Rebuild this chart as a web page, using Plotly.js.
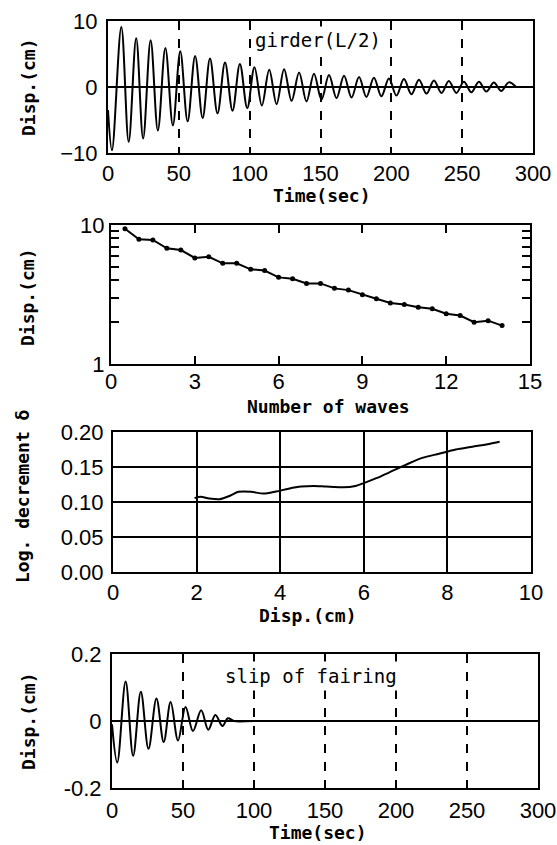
<!DOCTYPE html>
<html>
<head>
<meta charset="utf-8">
<script src="https://cdn.plot.ly/plotly-3.0.1.min.js"></script>
<style>html,body{margin:0;padding:0;background:#fff;}#chart{width:557px;height:845px;}</style>
</head>
<body>
<div id="chart"></div>
<script>
// ---- Panel 1: girder (L/2) free-vibration record (peaks / troughs)
const girderTime = [0, 2.8, 9.4, 14.6, 19.9, 24.8, 30.1, 35.2, 40.5, 45.8, 51.0, 56.2, 61.5, 66.8, 72.0, 77.3, 82.6, 87.9, 93.1, 98.3, 103.4, 108.6, 113.8, 119.0, 124.3, 129.6, 134.9, 140.1, 145.4, 150.7, 156.0, 161.3, 166.6, 171.9, 177.2, 182.4, 187.7, 193.0, 198.3, 203.6, 208.9, 214.2, 219.5, 224.8, 230.1, 235.4, 240.6, 245.9, 251.2, 256.5, 261.8, 267.1, 272.4, 277.6, 282.9, 288];
const girderDisp = [-3.5, -9.6, 9.1, -8.3, 7.4, -7.8, 7.1, -6.6, 5.9, -5.8, 5.4, -5.2, 4.7, -4.7, 4.3, -4.0, 3.7, -3.6, 3.5, -3.2, 3.0, -2.8, 2.6, -2.6, 2.7, -2.1, 2.2, -2.2, 2.0, -1.9, 1.8, -1.7, 1.7, -1.6, 1.5, -1.5, 1.4, -1.4, 1.3, -1.3, 1.2, -1.1, 1.1, -1.0, 1.0, -0.9, 0.9, -0.9, 0.8, -0.8, 0.8, -0.7, 0.7, -0.6, 0.7, 0];
const timeTicks = [0, 50, 100, 150, 200, 250, 300];

// ---- Panel 2: amplitude vs number of waves (log scale)
const waveNumber = [0.5, 1, 1.5, 2, 2.5, 3, 3.5, 4, 4.5, 5, 5.5, 6, 6.5, 7, 7.5, 8, 8.5, 9, 9.5, 10, 10.5, 11, 11.5, 12, 12.5, 13, 13.5, 14];
const waveAmp = [9.4, 7.9, 7.8, 6.8, 6.6, 5.8, 5.9, 5.3, 5.3, 4.8, 4.7, 4.2, 4.1, 3.8, 3.8, 3.5, 3.4, 3.15, 2.95, 2.75, 2.68, 2.56, 2.5, 2.3, 2.23, 2.0, 2.05, 1.89];
const waveTicks = [0, 3, 6, 9, 12, 15];
const logTickVals = [1, 2, 3, 4, 5, 6, 7, 8, 9, 10];
const logTickText = ['1', '', '', '', '', '', '', '', '', '10'];

// ---- Panel 3: logarithmic decrement vs displacement
const decDisp = [1.95, 2.1, 2.3, 2.55, 2.8, 3.0, 3.3, 3.6, 3.9, 4.2, 4.5, 4.8, 5.1, 5.5, 5.8, 6.0, 6.3, 6.6, 7.0, 7.4, 7.8, 8.2, 8.6, 9.0, 9.25];
const logDecrement = [0.1055, 0.1074, 0.105, 0.104, 0.109, 0.1146, 0.1146, 0.112, 0.115, 0.119, 0.122, 0.123, 0.122, 0.121, 0.123, 0.127, 0.134, 0.142, 0.153, 0.163, 0.169, 0.175, 0.179, 0.183, 0.186];
const dispTicks = [0, 2, 4, 6, 8, 10];
const decTicks = [0, 0.05, 0.10, 0.15, 0.20];

// ---- Panel 4: slip of fairing
const slipTime = [0, 3.7, 9.6, 14.9, 20.3, 25.7, 31.3, 36.4, 41.3, 46.5, 51.8, 57.0, 62.8, 67.8, 72.8, 77.8, 81.6, 86, 100, 150, 200, 250, 300];
const slipDisp = [-0.01, -0.124, 0.118, -0.104, 0.087, -0.083, 0.067, -0.063, 0.057, -0.058, 0.042, -0.030, 0.032, -0.026, 0.018, -0.015, 0.008, 0, 0, 0, 0, 0, 0];

const W = 557, H = 845;
const fx = p => p / W;
const fy = p => 1 - p / H;

const tickFont = {family: 'Liberation Sans, Arial, sans-serif', size: 22, color: '#000'};
const titleFont = {family: 'DejaVu Sans Mono, monospace', size: 18, color: '#000', weight: 'bold'};
const noteFont = {family: 'DejaVu Sans Mono, monospace', size: 19, color: '#000'};

const traces = [
  {x: girderTime, y: girderDisp, xaxis: 'x', yaxis: 'y', mode: 'lines', line: {color: '#000', width: 2, shape: 'spline', smoothing: 1}, hoverinfo: 'skip'},
  {x: waveNumber, y: waveAmp, xaxis: 'x2', yaxis: 'y2', mode: 'lines+markers', line: {color: '#000', width: 2}, marker: {color: '#000', size: 5}, hoverinfo: 'skip'},
  {x: decDisp, y: logDecrement, xaxis: 'x3', yaxis: 'y3', mode: 'lines', line: {color: '#000', width: 2, shape: 'spline', smoothing: 0.8}, hoverinfo: 'skip'},
  {x: slipTime, y: slipDisp, xaxis: 'x4', yaxis: 'y4', mode: 'lines', line: {color: '#000', width: 2, shape: 'spline', smoothing: 1}, hoverinfo: 'skip'}
];

const box = {showline: true, mirror: true, linecolor: '#000', linewidth: 2, tickfont: tickFont, fixedrange: true};

const layout = {
  width: W, height: H,
  margin: {l: 0, r: 0, t: 0, b: 0},
  paper_bgcolor: '#fff', plot_bgcolor: '#fff',
  showlegend: false,
  // Panel 1
  xaxis: Object.assign({}, box, {domain: [fx(108), fx(533)], anchor: 'y', range: [0, 300], tickmode: 'array', tickvals: timeTicks,
    showgrid: true, gridcolor: '#000', gridwidth: 2, griddash: 'dash', zeroline: false, ticks: '', ticklabelstandoff: 0}),
  yaxis: Object.assign({}, box, {domain: [fy(153), fy(21)], anchor: 'x', range: [-10, 10], tickmode: 'array', tickvals: [-10, 0, 10],
    showgrid: false, zeroline: true, zerolinecolor: '#000', zerolinewidth: 2, ticks: '', ticklabelstandoff: 4}),
  // Panel 2
  xaxis2: Object.assign({}, box, {domain: [fx(111), fx(530)], anchor: 'y2', range: [0, 15], tickmode: 'array', tickvals: waveTicks,
    showgrid: false, zeroline: false, ticks: 'inside', ticklen: 8, tickwidth: 2, tickcolor: '#000', mirror: 'ticks', ticklabelstandoff: -3}),
  yaxis2: Object.assign({}, box, {domain: [fy(364), fy(225)], anchor: 'x2', type: 'log', range: [0, 1], tickmode: 'array', tickvals: logTickVals, ticktext: logTickText,
    showgrid: false, zeroline: false, ticks: 'inside', ticklen: 8, tickwidth: 2, tickcolor: '#000', mirror: 'ticks', ticklabelstandoff: 0}),
  // Panel 3
  xaxis3: Object.assign({}, box, {domain: [fx(113), fx(531)], anchor: 'y3', range: [0, 10], tickmode: 'array', tickvals: dispTicks,
    showgrid: true, gridcolor: '#000', gridwidth: 2, zeroline: false, ticks: '', ticklabelstandoff: 0}),
  yaxis3: Object.assign({}, box, {domain: [fy(572), fy(432)], anchor: 'x3', range: [0, 0.2], tickmode: 'array', tickvals: decTicks, tickformat: '.2f',
    showgrid: true, gridcolor: '#000', gridwidth: 2, zeroline: false, ticks: '', ticklabelstandoff: 3}),
  // Panel 4
  xaxis4: Object.assign({}, box, {domain: [fx(112), fx(538)], anchor: 'y4', range: [0, 300], tickmode: 'array', tickvals: timeTicks,
    showgrid: true, gridcolor: '#000', gridwidth: 2, griddash: 'dash', zeroline: false, ticks: '', ticklabelstandoff: 2}),
  yaxis4: Object.assign({}, box, {domain: [fy(788), fy(654)], anchor: 'x4', range: [-0.2, 0.2], tickmode: 'array', tickvals: [-0.2, 0, 0.2], ticktext: ['-0.2', '0', '0.2'],
    showgrid: false, zeroline: true, zerolinecolor: '#000', zerolinewidth: 2, ticks: '', ticklabelstandoff: 4}),
  annotations: [
    {text: 'girder(L/2)', xref: 'paper', yref: 'paper', x: fx(318), y: fy(40), xanchor: 'center', yanchor: 'middle', showarrow: false, font: noteFont, bgcolor: '#fff', borderpad: 2},
    {text: 'slip of fairing', xref: 'paper', yref: 'paper', x: fx(311), y: fy(676), xanchor: 'center', yanchor: 'middle', showarrow: false, font: noteFont, bgcolor: '#fff', borderpad: 3},
    {text: 'Time(sec)', xref: 'paper', yref: 'paper', x: fx(322), y: fy(195), xanchor: 'center', yanchor: 'middle', showarrow: false, font: titleFont},
    {text: 'Number of waves', xref: 'paper', yref: 'paper', x: fx(328), y: fy(407), xanchor: 'center', yanchor: 'middle', showarrow: false, font: titleFont},
    {text: 'Disp.(cm)', xref: 'paper', yref: 'paper', x: fx(308), y: fy(615), xanchor: 'center', yanchor: 'middle', showarrow: false, font: titleFont},
    {text: 'Time(sec)', xref: 'paper', yref: 'paper', x: fx(318), y: fy(832), xanchor: 'center', yanchor: 'middle', showarrow: false, font: titleFont},
    {text: 'Disp.(cm)', xref: 'paper', yref: 'paper', x: fx(28), y: fy(87), xanchor: 'center', yanchor: 'middle', textangle: -90, showarrow: false, font: titleFont},
    {text: 'Disp.(cm)', xref: 'paper', yref: 'paper', x: fx(28), y: fy(297), xanchor: 'center', yanchor: 'middle', textangle: -90, showarrow: false, font: titleFont},
    {text: 'Log. decrement δ', xref: 'paper', yref: 'paper', x: fx(22), y: fy(497), xanchor: 'center', yanchor: 'middle', textangle: -90, showarrow: false, font: titleFont},
    {text: 'Disp.(cm)', xref: 'paper', yref: 'paper', x: fx(28), y: fy(721), xanchor: 'center', yanchor: 'middle', textangle: -90, showarrow: false, font: titleFont}
  ]
};

Plotly.newPlot('chart', traces, layout, {staticPlot: true, displayModeBar: false});
</script>
</body>
</html>
